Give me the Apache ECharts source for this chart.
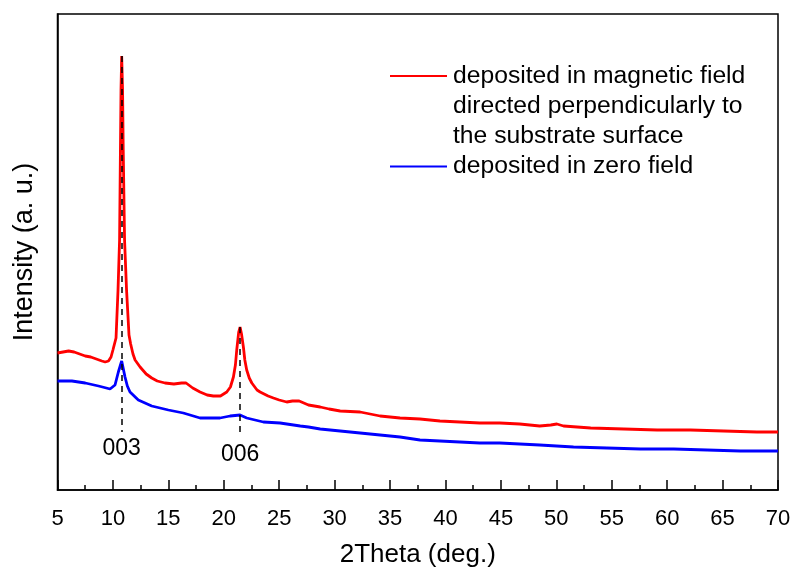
<!DOCTYPE html>
<html>
<head>
<meta charset="utf-8">
<script src="https://cdn.jsdelivr.net/npm/echarts@6/dist/echarts.min.js"></script>
<style>html,body{margin:0;padding:0;background:#fff}#c{width:794px;height:573px}</style>
</head>
<body>
<div id="c"></div>
<script>
// 2Theta (deg.) and intensity (a.u.)
var redX = [5.0,5.5,6.0,6.5,7.0,7.5,8.0,8.5,9.0,9.3,9.6,9.83,10.0,10.28,10.46,10.6,10.66,10.73,10.79,10.87,10.93,11.05,11.23,11.45,11.6,11.81,12.0,12.45,13.0,13.5,14.0,14.7,15.5,16.2,16.6,17.2,17.86,18.5,19.06,19.7,20.27,20.6,20.87,21.05,21.17,21.35,21.47,21.6,21.77,21.9,22.07,22.3,22.53,23.0,23.28,24.0,24.48,25.0,25.68,26.2,26.8,27.64,28.7,29.5,30.5,32.3,34.1,35.9,37.7,39.5,41.3,43.1,44.9,46.7,48.5,49.5,50.05,50.65,53.1,56.1,59.1,62.1,65.1,68.1,70];
var redY = [137,138,139,138,136,134,133,131,129,128,129,133,140,152,200,250,320,400,434,400,340,250,200,155,146,136,130,123,116,112,109,107,106,107,107,102,98,95,94,94,98,103,113,125,140,158,163,156,143,130,120,112,107,100,98,94,92,90,88,89,89,85,83,81,79,78,74,72,71,69,68,67,67,66,64,65,66,64,62,61,60,60,59,58,58];
var blueX = [5.0,6.3,7.5,8.7,9.4,9.74,10.19,10.49,10.79,11.09,11.3,11.54,12.29,13.5,15.0,16.35,17.86,19.66,20.57,21.47,22.07,23.57,25.08,26.9,27.64,28.7,30.5,32.3,34.1,35.9,37.7,39.5,41.3,43.1,44.9,46.7,48.5,51.55,54.57,57.6,60.6,63.6,66.6,70];
var blueY = [109,109,107,104,102,101,105,118,129,113,104,98,90,84,80,77,72,72,74,75,72,68,67,64,63,61,59,57,55,53,50,49,48,47,47,46,45,43,42,41,41,40,39,39];
var xTicks = [5,10,15,20,25,30,35,40,45,50,55,60,65,70];
var peakLabels = ['003','006'];
var peakPos = [10.79, 21.47];
var peakTop = [434, 163];
var peakBottom = [58, 55];
var seriesNames = ['deposited in magnetic field\ndirected perpendicularly to\nthe substrate surface','deposited in zero field'];

function pairs(xs, ys){ return xs.map(function(x,i){ return [x, ys[i]]; }); }

var FONT = '"Liberation Sans", Arial, Helvetica, sans-serif';
var chart = echarts.init(document.getElementById('c'), null, {renderer:'canvas'});

var labelDist = [5, 8];
var mlData = peakPos.map(function(p, i){
  var lab = {show:true, position:'end', formatter: peakLabels[i], fontSize:23, color:'#000', fontFamily:FONT, distance: labelDist[i]};
  return [{coord:[p, peakTop[i]], label:lab}, {coord:[p, peakBottom[i]], label:lab}];
});

var option = {
  animation:false,
  backgroundColor:'#fff',
  grid:{left:57.5, right:16, top:14, bottom:83, show:true, borderColor:'#000', borderWidth:1.5, backgroundColor:'transparent'},
  xAxis:{
    type:'value', min:xTicks[0], max:xTicks[xTicks.length-1], interval:5,
    name:'2Theta (deg.)', nameLocation:'middle', nameGap:52,
    nameTextStyle:{fontSize:26, color:'#000', fontFamily:FONT},
    axisLine:{show:true, onZero:false, lineStyle:{color:'#000', width:1.5}},
    axisTick:{show:true, inside:true, length:10, lineStyle:{color:'#000', width:1.5}},
    minorTick:{show:true, splitNumber:2, length:5, lineStyle:{color:'#000', width:1.5}},
    axisLabel:{fontSize:22, color:'#000', fontFamily:FONT, margin:18},
    splitLine:{show:false}
  },
  yAxis:{
    type:'value', min:0, max:476,
    name:'Intensity (a. u.)', nameLocation:'middle', nameGap:19, nameRotate:90,
    nameTextStyle:{fontSize:27, color:'#000', fontFamily:FONT},
    axisLine:{show:true, lineStyle:{color:'#000', width:1.5}},
    axisTick:{show:false}, axisLabel:{show:false}, splitLine:{show:false}
  },
  series:[
    {name:seriesNames[1], type:'line', data:pairs(blueX, blueY), showSymbol:false, symbol:'none',
     lineStyle:{color:'#0000ff', width:2.8}, z:2},
    {name:seriesNames[0], type:'line', data:pairs(redX, redY), showSymbol:false, symbol:'none',
     lineStyle:{color:'#ff0000', width:2.8}, z:3,
     markLine:{silent:true, symbol:['none','none'], animation:false,
       lineStyle:{color:'#000', type:[6,5], width:1.5},
       label:{show:true, position:'end', fontSize:23, color:'#000', fontFamily:FONT},
       emphasis:{disabled:true},
       data:mlData}}
  ],
  graphic:[
    {type:'line', shape:{x1:390, y1:76, x2:447, y2:76}, style:{stroke:'#ff0000', lineWidth:2}},
    {type:'text', left:453, top:61.5, style:{text:seriesNames[0], font:'24.7px ' + FONT, fill:'#000', lineHeight:30}},
    {type:'line', shape:{x1:390, y1:166.5, x2:447, y2:166.5}, style:{stroke:'#0000ff', lineWidth:2}},
    {type:'text', left:453, top:151.5, style:{text:seriesNames[1], font:'24.7px ' + FONT, fill:'#000', lineHeight:30}}
  ]
};
chart.setOption(option);
</script>
</body>
</html>
